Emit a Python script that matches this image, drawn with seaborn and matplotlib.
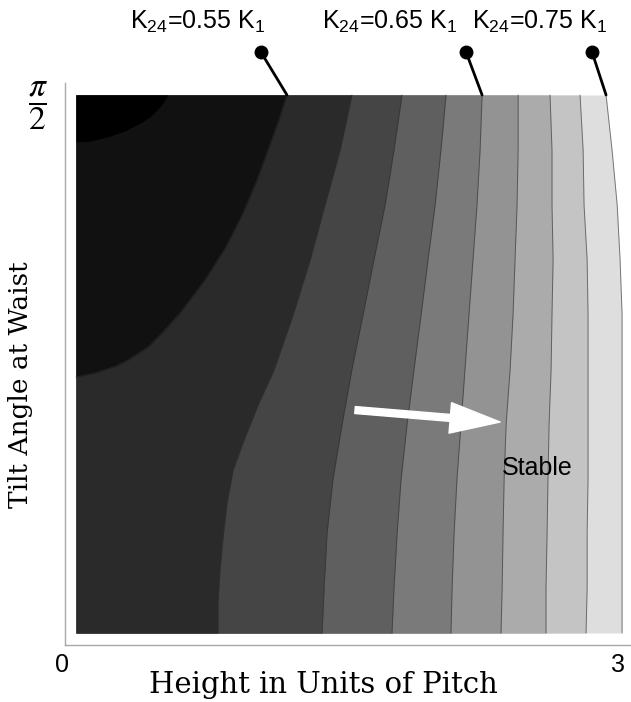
import numpy as np
import matplotlib
matplotlib.use('Agg')
import matplotlib.pyplot as plt
import matplotlib.transforms as mtransforms
import seaborn as sns

# contour levels of K24 (in units of K1), darkest to lightest
levels = [0.525, 0.55, 0.575, 0.6, 0.625, 0.65, 0.675, 0.7, 0.725, 0.75]
band_colors = ['#000000', '#111111', '#2a2a2a', '#454545', '#5f5f5f',
               '#7a7a7a', '#939393', '#ababab', '#c4c4c4', '#dedede']

# tilt angle rows where the contour lines were read
y_rows = [0, 0.13, 0.29, 0.45, 0.61, 0.77, 0.93, 1.09, 1.25, 1.41, np.pi / 2]

# height (x) of each contour line at the rows above
x_0600 = [1.352, 1.363, 1.379, 1.412, 1.462, 1.516, 1.577, 1.637, 1.698, 1.747, 1.791]
x_0625 = [1.736, 1.747, 1.764, 1.786, 1.819, 1.857, 1.896, 1.934, 1.973, 2.005, 2.033]
x_0650 = [2.060, 2.066, 2.077, 2.093, 2.115, 2.137, 2.159, 2.181, 2.203, 2.220, 2.231]
x_0675 = [2.335, 2.341, 2.346, 2.352, 2.363, 2.385, 2.401, 2.412, 2.423, 2.429, 2.429]
x_0700 = [2.582, 2.582, 2.588, 2.593, 2.599, 2.610, 2.615, 2.621, 2.615, 2.615, 2.604]
x_0725 = [2.802, 2.808, 2.808, 2.813, 2.813, 2.813, 2.813, 2.808, 2.791, 2.786, 2.769]
x_0750 = [3.000, 3.000, 3.000, 3.000, 3.000, 3.000, 3.000, 2.989, 2.973, 2.945, 2.912]

# lines read on their own rows
y_0575 = [0, 0.088, 0.184, 0.280, 0.380, 0.476, 0.572, 0.672, 0.768, 0.928,
          1.089, 1.250, 1.410, np.pi / 2]
x_0575 = [0.780, 0.780, 0.791, 0.808, 0.830, 0.863, 0.929, 1.005, 1.088, 1.192,
          1.286, 1.368, 1.451, 1.516]
y_0550 = [0.747, 0.759, 0.778, 0.797, 0.835, 0.870, 0.934, 1.031, 1.127, 1.226,
          1.323, 1.410, 1.498, np.pi / 2]
x_0550 = [0.000, 0.104, 0.214, 0.286, 0.396, 0.462, 0.571, 0.709, 0.824, 0.918,
          0.995, 1.055, 1.115, 1.159]
y_0525 = [1.434, 1.436, 1.448, 1.466, 1.489, 1.507, 1.527, 1.547, np.pi / 2]
x_0525 = [0.000, 0.077, 0.170, 0.269, 0.352, 0.407, 0.445, 0.478, 0.505]

lines = [(x_0525, y_0525), (x_0550, y_0550), (x_0575, y_0575), (x_0600, y_rows),
         (x_0625, y_rows), (x_0650, y_rows), (x_0675, y_rows), (x_0700, y_rows),
         (x_0725, y_rows), (x_0750, y_rows)]

sns.set_style('white')
plt.rcParams['font.family'] = ['Liberation Sans', 'DejaVu Sans']
plt.rcParams['mathtext.fontset'] = 'stix'
plt.rcParams['text.color'] = 'black'
plt.rcParams['xtick.color'] = 'black'
plt.rcParams['ytick.color'] = 'black'
plt.rcParams['axes.labelcolor'] = 'black'

fig = plt.figure(figsize=(6.31, 7.02), dpi=100)
ax = fig.add_axes([65 / 631, 57 / 702, 566 / 631, 562 / 702])

# paint the regions left of each line, lighter to darker
ax.fill_betweenx([0, np.pi / 2], 0, 0.8, color=band_colors[2], lw=0)
for i in range(len(lines) - 1, -1, -1):
    xs, ys = lines[i]
    ax.fill_betweenx(ys, 0, xs, color=band_colors[i], lw=0)

for xs, ys in lines[1:]:
    sns.lineplot(x=xs, y=ys, orient='y', estimator=None, color='#303030',
                 lw=0.7, alpha=0.6, ax=ax)

ax.set_xlim(-0.0604, 3.049)
ax.set_ylim(-0.035, np.pi / 2 + 0.035)

sns.despine(ax=ax, top=True, right=True)
for s in ['left', 'bottom']:
    ax.spines[s].set_color('#a8a8a8')
    ax.spines[s].set_linewidth(1.0)

ax.set_xticks([0, 3], labels=['0', '3'])
ax.set_yticks([0, np.pi / 2], labels=['', r'$\dfrac{\pi}{2}$'])
ax.tick_params(axis='both', direction='in', length=5, width=0.8, color='#909090')
ax.tick_params(axis='x', labelsize=18, pad=6)
ax.tick_params(axis='y', labelsize=24, pad=12)
offsets = [-14, -4]
for lab, dx in zip(ax.get_xticklabels(), offsets):
    lab.set_transform(lab.get_transform() + mtransforms.ScaledTranslation(dx / 100, 0, fig.dpi_scale_trans))

ax.set_xlabel('Height in Units of Pitch', family='DejaVu Serif', fontsize=21)
ax.set_ylabel('Tilt Angle at Waist', family='DejaVu Serif', fontsize=19)
ax.xaxis.set_label_coords((323 - 65) / 566, -(671 - 645) / 562)
ax.yaxis.set_label_coords(-(65 - 33) / 566, (645 - 385) / 562)

# level callouts
callouts = [(0.55, x_0550[-1], 1.016, 0.665),
            (0.65, x_0650[-1], 2.143, 1.725),
            (0.75, x_0750[-1], 2.835, 2.549)]
for lev, xe, xd, xt in callouts:
    ax.plot([xd, xe], [1.696, np.pi / 2], color='black', lw=2, clip_on=False)
    ax.plot([xd], [1.696], 'o', color='black', ms=9, clip_on=False)
    ax.text(xt, 1.784, r'K$\mathregular{_{24}}$=%.2f K$\mathregular{_1}$' % lev,
            ha='center', va='center', fontsize=18)

ax.annotate('', xy=(2.33, 0.616), xytext=(1.533, 0.651),
            arrowprops=dict(facecolor='white', edgecolor='white', width=5,
                            headwidth=22, headlength=36))
ax.text(2.533, 0.482, 'Stable', ha='center', va='center', fontsize=18)

fig.savefig('out.png', dpi=100)
